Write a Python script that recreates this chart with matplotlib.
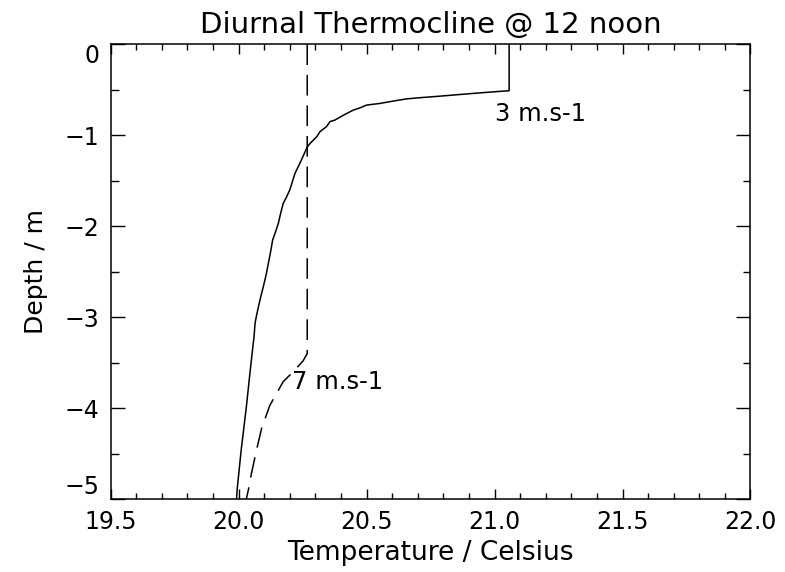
import numpy as np
import matplotlib
matplotlib.use("Agg")
import matplotlib.pyplot as plt
from matplotlib.ticker import MultipleLocator, FormatStrFormatter

# profil 3 m/s (trait plein)
solid_temp = [21.057, 21.057, 21.008, 20.915, 20.838, 20.786, 20.708, 20.656, 20.604,
              20.552, 20.50, 20.473, 20.448, 20.409, 20.376, 20.357, 20.343, 20.318,
              20.305, 20.279, 20.268, 20.239, 20.220, 20.200, 20.187, 20.174, 20.164,
              20.155, 20.142, 20.133, 20.125, 20.116, 20.107, 20.096, 20.086, 20.077,
              20.070, 20.064, 20.06, 20.055, 20.044, 20.03, 20.01, 19.994, 19.992]
solid_depth = [0.0, -0.51, -0.52, -0.54, -0.558, -0.57, -0.587, -0.60, -0.624,
               -0.65, -0.668, -0.70, -0.723, -0.78, -0.833, -0.85, -0.906, -0.96,
               -1.016, -1.09, -1.13, -1.31, -1.42, -1.60, -1.68, -1.75, -1.86,
               -1.97, -2.08, -2.15, -2.28, -2.41, -2.54, -2.67, -2.78, -2.89,
               -2.98, -3.07, -3.22, -3.34, -3.62, -3.99, -4.46, -4.90, -5.0]

# profil 7 m/s (tirets)
dashed_temp = [20.268, 20.268, 20.252, 20.21, 20.174, 20.148, 20.122, 20.09, 20.07, 20.05, 20.038, 20.03]
dashed_depth = [0.0, -3.40, -3.48, -3.61, -3.71, -3.84, -3.97, -4.22, -4.46, -4.72, -4.90, -5.0]

labels = ["3 m.s-1", "7 m.s-1"]
label_pos = [(21.0, -0.84), (20.209, -3.79)]

fig = plt.figure(figsize=(7.85, 5.72), dpi=100)
ax = fig.add_axes([0.141, 0.1276, 0.815, 0.7949])

ax.plot(solid_temp, solid_depth, color="black", lw=1.1)
ax.plot(dashed_temp, dashed_depth, color="black", lw=1.1, dashes=(13.5, 6.5))

for txt, (x, y) in zip(labels, label_pos):
    ax.text(x, y, txt, fontsize=17.5, ha="left", va="baseline")

ax.set_xlim(19.5, 22.0)
ax.set_ylim(-5, 0)
ax.xaxis.set_major_locator(MultipleLocator(0.5))
ax.xaxis.set_minor_locator(MultipleLocator(0.1))
ax.xaxis.set_major_formatter(FormatStrFormatter("%.1f"))
ax.yaxis.set_major_locator(MultipleLocator(1))
ax.yaxis.set_minor_locator(MultipleLocator(0.5))

ax.tick_params(which="both", direction="in", top=True, right=True, labelsize=17, width=1.0)
ax.tick_params(axis="x", which="major", length=7.2, pad=8)
ax.tick_params(axis="x", which="minor", length=4)
ax.tick_params(axis="y", which="major", length=10, pad=8)
ax.tick_params(axis="y", which="minor", length=5.4)
for s in ax.spines.values():
    s.set_linewidth(1.1)

# IDL décale les étiquettes extrêmes vers l'intérieur
fig.canvas.draw()
for t in ax.yaxis.get_major_ticks():
    if abs(t.get_loc() - 0) < 1e-6:
        t.label1.set_va("top")
    elif abs(t.get_loc() + 5) < 1e-6:
        t.label1.set_va("bottom")

ax.set_title("Diurnal Thermocline @ 12 noon", fontsize=21, pad=8)
ax.set_xlabel("Temperature / Celsius", fontsize=19, labelpad=4)
ax.set_ylabel("Depth / m", fontsize=18, labelpad=12)

fig.savefig("out.png", dpi=100)
